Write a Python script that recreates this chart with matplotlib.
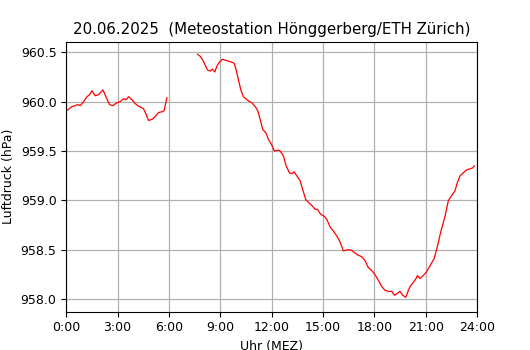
import numpy as np
import matplotlib
matplotlib.use("Agg")
from matplotlib import pyplot as plt

# Luftdruck Hönggerberg, 20.06.2025 (Zeit in Stunden MEZ)
t_night = [0.04, 0.33, 0.53, 0.66, 0.82, 1.01, 1.21, 1.36, 1.50, 1.69, 1.89, 2.14,
           2.34, 2.53, 2.73, 2.96, 3.15, 3.35, 3.49, 3.64, 3.84, 4.03, 4.26, 4.51,
           4.67, 4.81, 5.00, 5.20, 5.39, 5.65, 5.72, 5.88]
p_night = [959.91, 959.95, 959.96, 959.97, 959.96, 960.00, 960.05, 960.07, 960.11, 960.06,
           960.07, 960.12, 960.04, 959.97, 959.96, 959.99, 960.00, 960.03, 960.02, 960.05,
           960.02, 959.98, 959.95, 959.93, 959.87, 959.81, 959.82, 959.85, 959.89, 959.90,
           959.91, 960.04]

t_day = [7.67, 7.82, 7.98, 8.12, 8.25, 8.41, 8.54, 8.68, 8.80, 8.95, 9.13, 9.28,
         9.48, 9.67, 9.81, 9.93, 10.06, 10.20, 10.35, 10.55, 10.71, 10.84, 11.04, 11.19,
         11.33, 11.48, 11.68, 11.81, 12.01, 12.16, 12.40, 12.50, 12.69, 12.85, 13.04, 13.18,
         13.31, 13.47, 13.66, 13.82, 13.99, 14.21, 14.40, 14.54, 14.67, 14.87, 15.07, 15.22,
         15.42, 15.61, 15.81, 16.00, 16.19, 16.43, 16.63, 16.78, 17.01, 17.27, 17.46, 17.65,
         17.85, 18.04, 18.24, 18.43, 18.63, 18.82, 19.02, 19.17, 19.35, 19.50, 19.66, 19.84,
         19.99, 20.13, 20.28, 20.44, 20.52, 20.67, 20.86, 21.06, 21.26, 21.49, 21.65, 21.88,
         22.13, 22.33, 22.52, 22.72, 22.85, 23.01, 23.20, 23.40, 23.59, 23.75, 23.85]
p_day = [960.48, 960.46, 960.42, 960.37, 960.32, 960.31, 960.33, 960.30, 960.36, 960.40,
         960.43, 960.42, 960.41, 960.40, 960.39, 960.32, 960.22, 960.12, 960.05, 960.02,
         960.00, 959.99, 959.95, 959.91, 959.82, 959.72, 959.68, 959.62, 959.56, 959.50,
         959.51, 959.50, 959.45, 959.35, 959.28, 959.27, 959.29, 959.25, 959.20, 959.11,
         959.01, 958.97, 958.94, 958.91, 958.91, 958.86, 958.84, 958.81, 958.73, 958.69,
         958.64, 958.58, 958.49, 958.50, 958.50, 958.48, 958.45, 958.43, 958.39, 958.32,
         958.29, 958.25, 958.19, 958.13, 958.09, 958.08, 958.08, 958.04, 958.06, 958.08,
         958.04, 958.02, 958.09, 958.14, 958.17, 958.21, 958.24, 958.21, 958.24, 958.28,
         958.34, 958.41, 958.51, 958.68, 958.84, 959.00, 959.05, 959.10, 959.18, 959.25,
         959.28, 959.31, 959.32, 959.33, 959.35]

tick_hours = [0, 3, 6, 9, 12, 15, 18, 21, 24]
tick_labels = ["%d:00" % h for h in tick_hours]

# Lücke zwischen den beiden Messreihen
t = np.array(t_night + [6.8] + t_day)
p = np.array(p_night + [np.nan] + p_day)

plt.rcParams["font.size"] = 9

fig = plt.figure(figsize=(5.3, 3.5), dpi=100)
ax = fig.add_subplot(111)
ax.plot(t, p, color="red", linewidth=0.9)
ax.set_xlim(0, 24)
ax.set_ylim(957.876, 960.604)
ax.set_xticks(tick_hours)
ax.set_xticklabels(tick_labels)
ax.set_yticks([958.0, 958.5, 959.0, 959.5, 960.0, 960.5])
ax.grid(True, linewidth=0.9)
ax.set_title("20.06.2025  (Meteostation Hönggerberg/ETH Zürich)", fontsize=10.8)
ax.set_xlabel("Uhr (MEZ)")
ax.set_ylabel("Luftdruck (hPa)")
fig.savefig("out.png", dpi=100)
